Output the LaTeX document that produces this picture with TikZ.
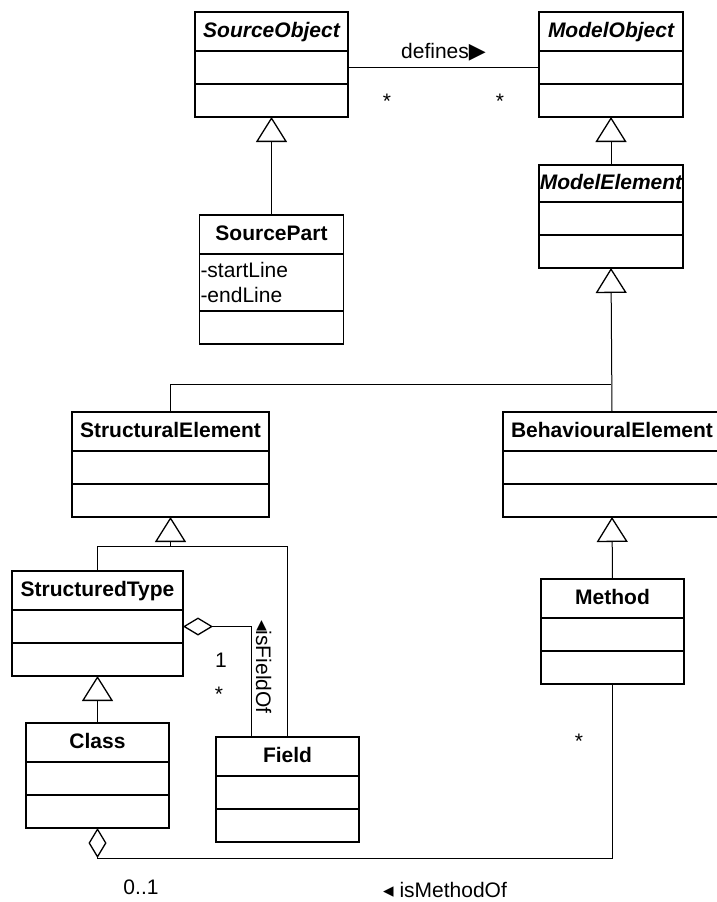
\documentclass[tikz,border=0pt]{standalone}
\usepackage{fontspec}
\setmainfont{Liberation Sans}
\newfontfamily\glyphfont{DejaVu Sans}
\usepackage{tikz}
\usetikzlibrary{arrows.meta,positioning,calc}
\tikzset{
  classhead/.style={rectangle, draw, line width=1.6pt, inner sep=0pt, outer sep=0pt,
              minimum height=39pt, text height=15pt, text depth=4pt,
              font=\fontsize{21}{25}\selectfont\bfseries},
  abstract/.style={classhead, font=\fontsize{21}{25}\selectfont\bfseries\itshape},
  classpart/.style={rectangle, draw, line width=1.6pt, inner sep=0pt, outer sep=0pt,
              minimum height=33pt},
  assoc/.style={line width=1pt},
  gen/.style={assoc, -{Triangle[open, length=25pt, width=31pt, line width=1.3pt]}},
  agg/.style={assoc, {Diamond[open, length=30pt, width=18pt, line width=1.3pt]}-},
  mult/.style={font=\fontsize{21}{25}\selectfont, inner sep=0pt},
}

\begin{document}
\begin{tikzpicture}[x=1pt, y=-1pt]
  \useasboundingbox (0,0) rectangle (717,902);

  % source side
  \node[abstract, minimum width=153pt] (srcobj) at (271.5,31.5) {SourceObject};
  \node[classpart, minimum width=153pt, below=0pt of srcobj] (srcobj-a) {};
  \node[classpart, minimum width=153pt, below=0pt of srcobj-a] (srcobj-o) {};

  \node[classhead, minimum width=144pt] (srcpart) at (271.5,234.5) {SourcePart};
  \node[classpart, minimum width=144pt, minimum height=57pt, below=0pt of srcpart,
        text width=142pt, inner xsep=1pt, align=left,
        font=\fontsize{21}{25}\selectfont] (srcpart-a) {-startLine\\-endLine};
  \node[classpart, minimum width=144pt, below=0pt of srcpart-a] (srcpart-o) {};

  % model side
  \node[abstract, minimum width=144pt] (modobj) at (611,31.5) {ModelObject};
  \node[classpart, minimum width=144pt, below=0pt of modobj] (modobj-a) {};
  \node[classpart, minimum width=144pt, below=0pt of modobj-a] (modobj-o) {};

  \node[abstract, minimum width=144pt, minimum height=37pt] (modelem) at (611,183.5) {ModelElement};
  \node[classpart, minimum width=144pt, below=0pt of modelem] (modelem-a) {};
  \node[classpart, minimum width=144pt, below=0pt of modelem-a] (modelem-o) {};

  \node[classhead, minimum width=197pt] (structel) at (170.5,431.5) {StructuralElement};
  \node[classpart, minimum width=197pt, below=0pt of structel] (structel-a) {};
  \node[classpart, minimum width=197pt, below=0pt of structel-a] (structel-o) {};

  \node[classhead, minimum width=218pt] (behavel) at (612,431.5) {BehaviouralElement};
  \node[classpart, minimum width=218pt, below=0pt of behavel] (behavel-a) {};
  \node[classpart, minimum width=218pt, below=0pt of behavel-a] (behavel-o) {};

  \node[classhead, minimum width=171pt] (sttype) at (97.5,590.5) {StructuredType};
  \node[classpart, minimum width=171pt, below=0pt of sttype] (sttype-a) {};
  \node[classpart, minimum width=171pt, below=0pt of sttype-a] (sttype-o) {};

  \node[classhead, minimum width=143pt] (method) at (612.5,598.5) {Method};
  \node[classpart, minimum width=143pt, below=0pt of method] (method-a) {};
  \node[classpart, minimum width=143pt, below=0pt of method-a] (method-o) {};

  \node[classhead, minimum width=143pt] (class) at (97.5,742.5) {Class};
  \node[classpart, minimum width=143pt, below=0pt of class] (class-a) {};
  \node[classpart, minimum width=143pt, below=0pt of class-a] (class-o) {};

  \node[classhead, minimum width=143pt] (field) at (287.5,756.5) {Field};
  \node[classpart, minimum width=143pt, below=0pt of field] (field-a) {};
  \node[classpart, minimum width=143pt, below=0pt of field-a] (field-o) {};

  % junctions
  \coordinate (modeljoin) at ($(modelem-o.south)+(0,116)$);
  \coordinate (structjoin) at ($(structel-o.south)+(0,29)$);
  \coordinate (fieldlink) at ($(field.north west)!0.25!(field.north east)$);

  % defines
  \draw[assoc] (srcobj-a.east) -- node[mult, above=6pt] (defines)
        {defines{\glyphfont\fontsize{22}{24}\selectfont▶}} (modobj-a.west);
  \node[mult, anchor=base] (m-src) at (387,108) {*};
  \node[mult, anchor=base] (m-mod) at (500,108) {*};

  % generalisations
  \draw[gen] (srcpart.north) -- (srcobj-o.south);
  \draw[gen] (modelem.north) -- (modobj-o.south);
  \draw[gen] (behavel.north) -- (modelem-o.south);
  \draw[assoc] (structel.north) |- (modeljoin);
  \draw[gen] (structjoin) -- (structel-o.south);
  \draw[assoc] (sttype.north) |- (structjoin);
  \draw[assoc] (field.north) |- (structjoin);
  \draw[gen] (method.north) -- (behavel-o.south);
  \draw[gen] (class.north) -- (sttype-o.south);

  % isFieldOf
  \draw[agg] (sttype-a.east) -| (fieldlink);
  \node[mult, anchor=base] (m-type) at (221,667.5) {1};
  \node[mult, anchor=base] (m-field) at (219,701) {*};
  \node[mult, rotate=-90, anchor=base west] (fieldof) at (256,620)
        {{\glyphfont◂}isFieldOf};

  % isMethodOf
  \draw[agg] (class-o.south) -- ++(0,30) -| (method-o.south);
  \node[mult, anchor=base] (m-method) at (579,748) {*};
  \node[mult, anchor=base] (m-class) at (141,894.5) {0..1};
  \node[mult, anchor=base] (methodof) at (445,897.5) {{\glyphfont◂} isMethodOf};
\end{tikzpicture}
\end{document}
